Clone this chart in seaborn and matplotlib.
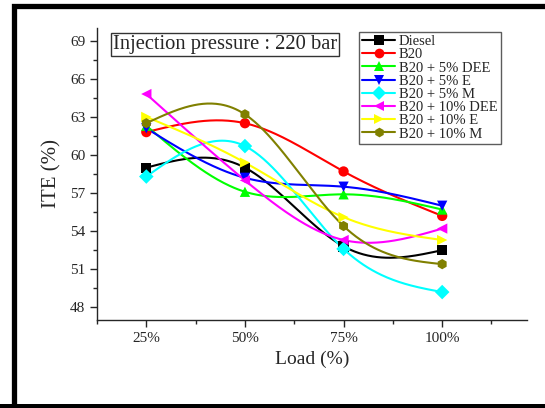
import numpy as np
import pandas as pd
import matplotlib
matplotlib.use("Agg")
import matplotlib.pyplot as plt
from matplotlib.lines import Line2D
from matplotlib.patches import Rectangle
from matplotlib.ticker import MultipleLocator
import seaborn as sns

# Engine test results: indicated thermal efficiency at each load step
loads = ["25%", "50%", "75%", "100%"]
diesel = [59.0, 59.0, 52.8, 52.5]
b20 = [61.8, 62.5, 58.7, 55.2]
b20_5dee = [62.3, 57.1, 56.9, 55.7]
b20_5e = [62.1, 58.2, 57.5, 56.0]
b20_5m = [58.3, 60.7, 52.6, 49.2]
b20_10dee = [64.8, 58.0, 53.3, 54.2]
b20_10e = [63.0, 59.4, 55.1, 53.3]
b20_10m = [62.5, 63.2, 54.4, 51.4]

series_names = ["Diesel", "B20", "B20 + 5% DEE", "B20 + 5% E", "B20 + 5% M",
                "B20 + 10% DEE", "B20 + 10% E", "B20 + 10% M"]
series_values = [diesel, b20, b20_5dee, b20_5e, b20_5m, b20_10dee, b20_10e, b20_10m]
colors = ["#000000", "#ff0000", "#00ff00", "#0000ff", "#00ffff",
          "#ff00ff", "#ffff00", "#808000"]
markers = ["s", "o", "^", "v", "D", "<", ">", "h"]


def natural_spline(x, y, n=200):
    """Natural cubic spline through (x, y), sampled at n points."""
    x = np.asarray(x, float)
    y = np.asarray(y, float)
    k = len(x)
    h = np.diff(x)
    A = np.zeros((k, k))
    r = np.zeros(k)
    A[0, 0] = A[-1, -1] = 1.0
    for i in range(1, k - 1):
        A[i, i - 1] = h[i - 1]
        A[i, i] = 2 * (h[i - 1] + h[i])
        A[i, i + 1] = h[i]
        r[i] = 3 * ((y[i + 1] - y[i]) / h[i] - (y[i] - y[i - 1]) / h[i - 1])
    c = np.linalg.solve(A, r)
    b = np.zeros(k - 1)
    d = np.zeros(k - 1)
    for i in range(k - 1):
        b[i] = (y[i + 1] - y[i]) / h[i] - h[i] * (2 * c[i] + c[i + 1]) / 3
        d[i] = (c[i + 1] - c[i]) / (3 * h[i])
    xs = np.linspace(x[0], x[-1], n)
    idx = np.clip(np.searchsorted(x, xs, side="right") - 1, 0, k - 2)
    dx = xs - x[idx]
    ys = y[idx] + b[idx] * dx + c[idx] * dx ** 2 + d[idx] * dx ** 3
    return xs, ys


sns.set_style("ticks")
plt.rcParams["font.family"] = ["Liberation Serif", "DejaVu Serif"]

fig = plt.figure(figsize=(5.45, 4.08), dpi=100)
ax = fig.add_axes([97 / 545, 88 / 408, 430 / 545, 292 / 408])

xpos = np.arange(1, len(loads) + 1)
points = pd.DataFrame({
    "load": np.tile(xpos, len(series_names)),
    "ite": np.concatenate(series_values),
    "fuel": np.repeat(series_names, len(loads)),
})
curve_rows = []
for name, vals in zip(series_names, series_values):
    xs, ys = natural_spline(xpos, vals)
    curve_rows.append(pd.DataFrame({"load": xs, "ite": ys, "fuel": name}))
curves = pd.concat(curve_rows, ignore_index=True)

palette = dict(zip(series_names, colors))
sns.lineplot(data=curves, x="load", y="ite", hue="fuel", palette=palette,
             hue_order=series_names, linewidth=1.5, legend=False, ax=ax, sort=False)
sns.scatterplot(data=points, x="load", y="ite", hue="fuel", style="fuel",
                palette=palette, hue_order=series_names, style_order=series_names,
                markers=dict(zip(series_names, markers)), s=55, linewidth=0,
                legend=False, ax=ax, zorder=5)

ax.set_xlim(0.5, 4.86)
ax.set_ylim(47, 70)
ax.set_xticks(xpos)
ax.set_xticklabels(loads)
ax.xaxis.set_minor_locator(MultipleLocator(0.5))
ax.set_yticks(np.arange(48, 70, 3))
ax.yaxis.set_minor_locator(MultipleLocator(1.5))
ax.tick_params(which="major", direction="out", length=5, width=1, labelsize=11)
ax.tick_params(which="minor", direction="out", length=3, width=1)
ax.set_xlabel("Load (%)", fontsize=14, labelpad=4)
ax.set_ylabel("ITE (%)", fontsize=15, labelpad=6)
for side in ["top", "right"]:
    ax.spines[side].set_visible(False)
for side in ["left", "bottom"]:
    ax.spines[side].set_linewidth(1.0)

handles = [Line2D([0], [0], color=c, marker=m, markersize=7, linewidth=1.5,
                  markeredgewidth=0)
           for c, m in zip(colors, markers)]
leg = ax.legend(handles, series_names, loc="upper left",
                bbox_to_anchor=(359 / 545, 1 - 32 / 408), bbox_transform=fig.transFigure,
                fontsize=10.5, frameon=True, fancybox=False, borderpad=0.2,
                labelspacing=0.0, handlelength=2.3, handletextpad=0.25,
                borderaxespad=0)
leg.get_frame().set_edgecolor("#333333")
leg.get_frame().set_linewidth(1.0)

ax.text(113 / 545, 1 - 35 / 408, "Injection pressure : 220 bar",
        transform=fig.transFigure, fontsize=14.8, ha="left", va="top",
        bbox=dict(boxstyle="square,pad=0.08", facecolor="white",
                  edgecolor="#333333", linewidth=1.0))

# thick outer frame around the panel
fig.patches.append(Rectangle((13.5 / 545, -0.02), 0.99, 1 - 6 / 408 + 0.02,
                             transform=fig.transFigure, fill=False,
                             edgecolor="black", linewidth=3.8, zorder=0))
fig.patches.append(Rectangle((0, 0), 1, 4 / 408, transform=fig.transFigure,
                             facecolor="black", edgecolor="none"))

fig.savefig("out.png", dpi=100)
